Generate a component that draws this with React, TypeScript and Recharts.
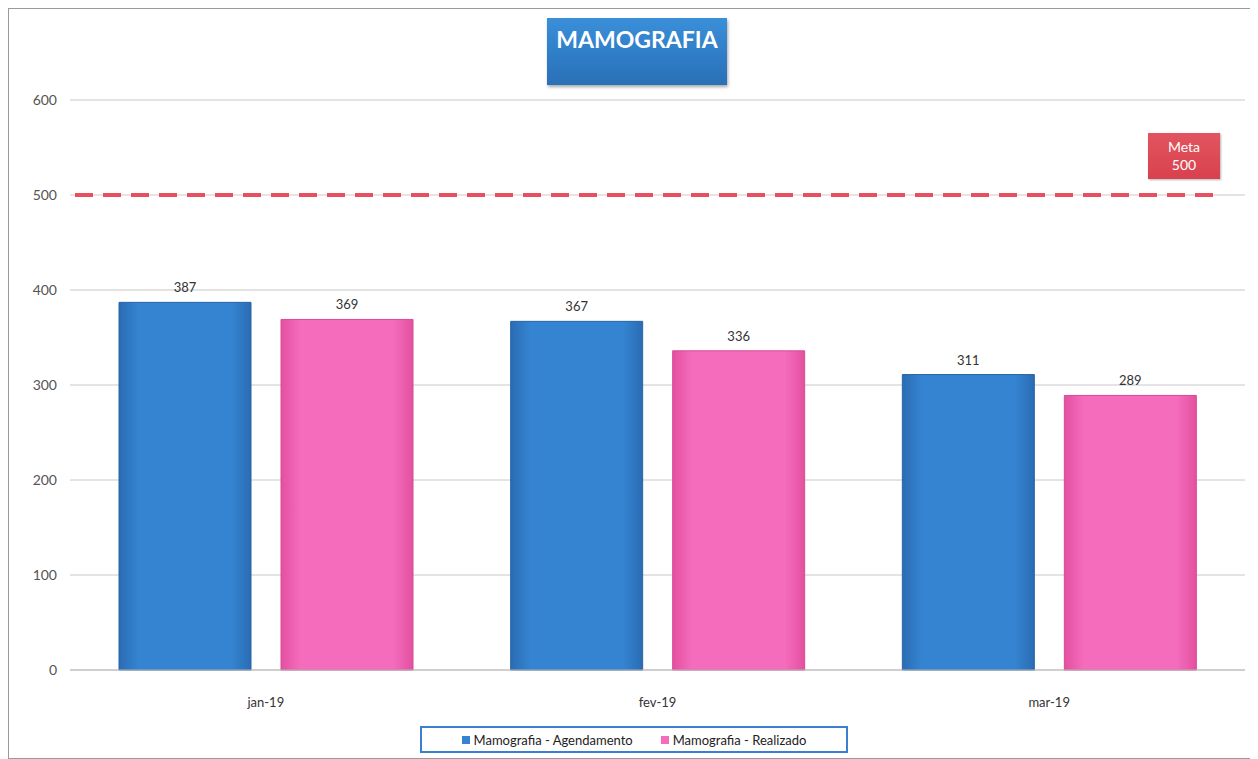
import React from "react";
import {
  Bar,
  BarChart,
  CartesianGrid,
  LabelList,
  ReferenceLine,
  XAxis,
  YAxis
} from "recharts";

const months = ["jan-19", "fev-19", "mar-19"];
const agendamento = [387, 367, 311];
const realizado = [369, 336, 289];
const yTicks = [0, 100, 200, 300, 400, 500, 600];
const meta = 500;

const data = months.map((month, i) => ({
  month,
  agendamento: agendamento[i],
  realizado: realizado[i]
}));

const font = "Lato, 'Open Sans', sans-serif";

// meta line stops short of the right edge like the original
function MetaLine(props: any) {
  const { x1, x2, y1, y2 } = props;
  return (
    <line
      x1={x1 + 5}
      x2={x2 - 24}
      y1={y1}
      y2={y2}
      stroke="#e8505f"
      strokeWidth={4}
      strokeDasharray="18 10"
    />
  );
}

export default function App() {
  return (
    <div
      style={{
        position: "relative",
        width: 1247,
        height: 749,
        border: "1px solid #9a9a9a",
        borderRight: "1px solid #d0d0d0",
        background: "#fff",
        fontFamily: font
      }}
    >
      <BarChart
        width={1247}
        height={749}
        data={data}
        margin={{ top: 91, right: 11, bottom: 58, left: 0 }}
        barSize={132}
        barGap={30}
      >
        <defs>
          <linearGradient id="blueGrad" x1="0" y1="0" x2="1" y2="0">
            <stop offset="0%" stopColor="#2a6cb3" />
            <stop offset="15%" stopColor="#3584d2" />
            <stop offset="85%" stopColor="#3584d2" />
            <stop offset="100%" stopColor="#2a6cb3" />
          </linearGradient>
          <linearGradient id="pinkGrad" x1="0" y1="0" x2="1" y2="0">
            <stop offset="0%" stopColor="#e4509f" />
            <stop offset="15%" stopColor="#f56cbd" />
            <stop offset="85%" stopColor="#f56cbd" />
            <stop offset="100%" stopColor="#e4509f" />
          </linearGradient>
        </defs>
        <CartesianGrid stroke="#c8c8c8" vertical={false} />
        <XAxis
          dataKey="month"
          height={30}
          tick={{ fill: "#333", fontSize: 13, fontFamily: font }}
          tickLine={false}
          axisLine={{ stroke: "#bbb" }}
          tickMargin={22}
        />
        <YAxis
          width={61}
          domain={[0, 600]}
          ticks={yTicks}
          tick={{ fill: "#555", fontSize: 14, fontFamily: font }}
          tickLine={false}
          axisLine={false}
          tickMargin={7}
        />
        <ReferenceLine y={meta} shape={MetaLine} />
        <Bar
          dataKey="agendamento"
          fill="url(#blueGrad)"
          stroke="#2765a6"
          strokeWidth={1}
          isAnimationActive={false}
        >
          <LabelList
            dataKey="agendamento"
            position="top"
            offset={10}
            fill="#333"
            fontSize={13}
            fontFamily={font}
          />
        </Bar>
        <Bar
          dataKey="realizado"
          fill="url(#pinkGrad)"
          stroke="#d84a95"
          strokeWidth={1}
          isAnimationActive={false}
        >
          <LabelList
            dataKey="realizado"
            position="top"
            offset={10}
            fill="#333"
            fontSize={13}
            fontFamily={font}
          />
        </Bar>
      </BarChart>

      <div
        style={{
          position: "absolute",
          left: 538,
          top: 9,
          width: 180,
          height: 67,
          background: "linear-gradient(#3a8fd8, #2f7cc6 60%, #2a70b6)",
          boxShadow: "1px 2px 3px rgba(0,0,0,0.35)",
          color: "#fff",
          fontWeight: 700,
          fontSize: 23,
          display: "flex",
          alignItems: "center",
          justifyContent: "center",
          paddingBottom: 26,
          boxSizing: "border-box"
        }}
      >
        MAMOGRAFIA
      </div>

      <div
        style={{
          position: "absolute",
          left: 1139,
          top: 124,
          width: 72,
          height: 46,
          background: "linear-gradient(#e25560, #d8414d)",
          boxShadow: "1px 1px 2px rgba(0,0,0,0.3)",
          color: "#fff",
          fontSize: 14,
          lineHeight: "18px",
          display: "flex",
          flexDirection: "column",
          alignItems: "center",
          justifyContent: "center"
        }}
      >
        <span>Meta</span>
        <span>{meta}</span>
      </div>

      <div
        style={{
          position: "absolute",
          left: 411,
          top: 717,
          width: 428,
          height: 27,
          border: "2px solid #3a7fd0",
          boxSizing: "border-box",
          display: "flex",
          alignItems: "center",
          justifyContent: "center",
          gap: 28,
          fontSize: 13,
          color: "#222"
        }}
      >
        <span style={{ display: "flex", alignItems: "center", gap: 4 }}>
          <span style={{ width: 8, height: 8, background: "#3584d2" }} />
          Mamografia - Agendamento
        </span>
        <span style={{ display: "flex", alignItems: "center", gap: 4 }}>
          <span style={{ width: 8, height: 8, background: "#f56cbd" }} />
          Mamografia - Realizado
        </span>
      </div>
    </div>
  );
}
